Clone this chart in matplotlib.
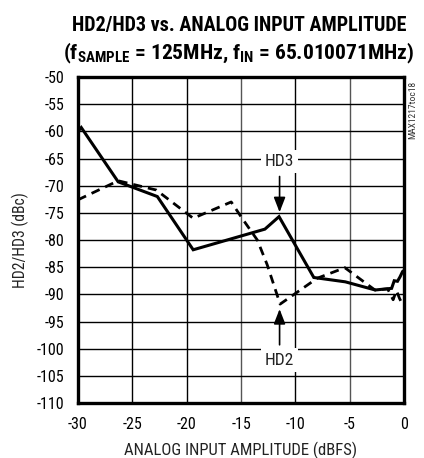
import matplotlib
matplotlib.use("Agg")
import matplotlib.pyplot as plt
from matplotlib import font_manager

# Data
hd3_x = [-30.0, -29.7, -26.3, -22.7, -19.4, -12.8, -11.5, -8.3, -5.4, -2.65, -1.14, -0.9, -0.6, -0.37, -0.13, 0.0]
hd3_y = [-60.0, -59.3, -69.3, -72.0, -81.8, -78.0, -75.7, -86.9, -87.7, -89.2, -88.9, -87.5, -87.6, -86.8, -85.8, -85.6]

hd2_x = [-30.0, -26.3, -22.8, -19.4, -15.9, -14.9, -13.5, -12.6, -11.4, -8.0, -5.44, -2.68, -1.5, -1.0, -0.7, -0.4, -0.1]
hd2_y = [-72.6, -69.1, -70.8, -76.0, -73.0, -76.0, -80.0, -84.5, -91.8, -87.05, -85.1, -89.2, -89.0, -91.0, -89.3, -90.8, -92.0]

x_ticks = [-30, -25, -20, -15, -10, -5, 0]
y_ticks = [-50, -55, -60, -65, -70, -75, -80, -85, -90, -95, -100, -105, -110]

avail = {f.name for f in font_manager.fontManager.ttflist}
prefs = ['Liberation Sans Narrow', 'DejaVu Sans Condensed', 'Roboto Condensed',
         'Open Sans Condensed', 'Roboto', 'Liberation Sans']
FAM = next((p for p in prefs if p in avail), 'DejaVu Sans')
plt.rcParams['font.family'] = [FAM, 'DejaVu Sans']
plt.rcParams['mathtext.fontset'] = 'custom'
plt.rcParams['mathtext.bf'] = FAM + ':bold'
plt.rcParams['mathtext.rm'] = FAM

fig = plt.figure(figsize=(4.24, 4.58), dpi=100)
ax = fig.add_axes([78/424, 1-403/458, 326/424, 326/458])

ax.set_xlim(-30, 0)
ax.set_ylim(-110, -50)
ax.set_xticks(x_ticks)
ax.set_yticks(y_ticks)
ax.set_xticklabels([str(t) for t in x_ticks])
ax.set_yticklabels([str(t) for t in y_ticks])
ax.tick_params(length=0, labelsize=11.5)
ax.tick_params(axis='x', pad=10)
ax.tick_params(axis='y', pad=10)
ax.grid(True, color='black', linewidth=1.0)
for gl, t in zip(ax.get_xgridlines(), x_ticks):
    if t in (-15, -5):
        gl.set_color('#555555')
ax.set_axisbelow(True)
for s in ax.spines.values():
    s.set_linewidth(2.4)

ax.plot(hd3_x, hd3_y, color='black', linewidth=2.2, solid_joinstyle='miter', zorder=3)
ax.plot(hd2_x, hd2_y, color='black', linewidth=2.0, linestyle=(0, (3.2, 2.2)), zorder=3)

# Annotations
ax.text(-11.45, -65.6, 'HD3', ha='center', va='center', fontsize=12.5, color='#222222',
        bbox=dict(facecolor='white', edgecolor='none', pad=3), zorder=4)
ax.annotate('', xy=(-11.45, -75.4), xytext=(-11.45, -67.8),
            arrowprops=dict(arrowstyle='-|>,head_length=0.9,head_width=0.35', color='black', lw=1.2),
            zorder=4)
ax.text(-11.45, -102.1, 'HD2', ha='center', va='center', fontsize=12.5, color='#222222',
        bbox=dict(facecolor='white', edgecolor='none', pad=3), zorder=4)
ax.annotate('', xy=(-11.45, -92.2), xytext=(-11.45, -99.8),
            arrowprops=dict(arrowstyle='-|>,head_length=0.9,head_width=0.35', color='black', lw=1.2),
            zorder=4)

t1 = fig.text(239/424, 1-25/458, 'HD2/HD3 vs. ANALOG INPUT AMPLITUDE', ha='center', va='center',
              fontsize=14, fontweight='bold')
t2 = fig.text(239/424, 1-53/458, r'(f$_{\mathbf{SAMPLE}}$ = 125MHz, f$_{\mathbf{IN}}$ = 65.010071MHz)',
              ha='center', va='center', fontsize=14, fontweight='bold')
xl = fig.text(241/424, 1-450/458, 'ANALOG INPUT AMPLITUDE (dBFS)', ha='center', va='center',
              fontsize=11, color='#222222')
yl = fig.text(20/424, 1-240/458, 'HD2/HD3 (dBc)', ha='center', va='center', rotation=90,
              fontsize=11, color='#222222')

# fit text extents to the reference
r = fig.canvas.get_renderer()
for t, w, lim in ((t1, 338, 16), (t2, 352, 16), (xl, 233, 13), (yl, 95, 13)):
    bb = t.get_window_extent(r)
    cw = bb.height if t is yl else bb.width
    fs = t.get_fontsize()
    if cw > 0:
        t.set_fontsize(min(lim, fs * w / cw))

fig.text(413/424, 1-110/458, 'MAX1217toc18', rotation=90, ha='center', va='center',
         fontsize=6.8, color='#333333')

fig.savefig('out.png', dpi=100)
